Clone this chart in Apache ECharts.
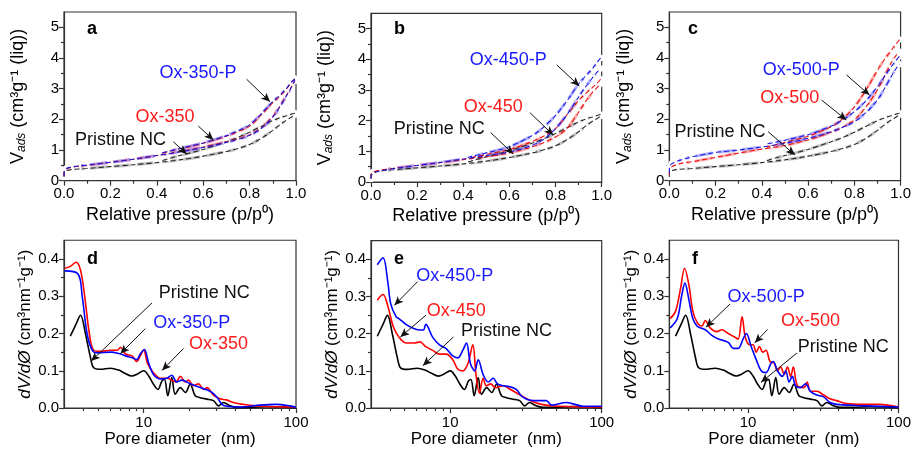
<!DOCTYPE html>
<html>
<head>
<meta charset="utf-8">
<script src="https://cdn.jsdelivr.net/npm/echarts@6/dist/echarts.min.js"></script>
<style>
  html, body { margin: 0; padding: 0; background: #fff; }
  #chart { width: 914px; height: 449px; }
</style>
</head>
<body>
<div id="chart"></div>
<script>
// ---------- N2 isotherms (volume adsorbed vs relative pressure) ----------
const pressureAds = [0.0001, 0.001, 0.01, 0.03, 0.06, 0.1, 0.2, 0.3, 0.4, 0.5, 0.6, 0.7, 0.75, 0.8, 0.85, 0.9, 0.93, 0.96, 0.98, 0.995];
const pressureDes = [0.995, 0.98, 0.96, 0.93, 0.9, 0.85, 0.8, 0.75, 0.7, 0.6, 0.5, 0.45, 0.42];

const pristineAds = [0.12, 0.28, 0.33, 0.36, 0.38, 0.4, 0.46, 0.52, 0.59, 0.68, 0.8, 0.95, 1.05, 1.18, 1.38, 1.64, 1.82, 1.98, 2.07, 2.15];
const pristineDes = [2.2, 2.17, 2.12, 2.05, 1.96, 1.77, 1.58, 1.41, 1.27, 1.02, 0.82, 0.72, 0.65];

const ox350Ads  = [0.15, 0.3, 0.38, 0.43, 0.47, 0.5, 0.6, 0.7, 0.82, 0.95, 1.1, 1.27, 1.37, 1.5, 1.72, 2.1, 2.42, 2.8, 3.05, 3.25];
const ox350Des  = [3.32, 3.2, 3.0, 2.75, 2.55, 2.15, 1.78, 1.6, 1.45, 1.22, 1.04, 0.95, 0.88];
const ox350pAds = [0.15, 0.32, 0.4, 0.44, 0.48, 0.51, 0.6, 0.7, 0.82, 0.94, 1.08, 1.25, 1.35, 1.48, 1.7, 2.07, 2.4, 2.78, 3.05, 3.28];
const ox350pDes = [3.32, 3.22, 3.02, 2.78, 2.58, 2.18, 1.82, 1.63, 1.47, 1.23, 1.05, 0.96, 0.9];

const ox450Ads  = [0.12, 0.25, 0.32, 0.37, 0.41, 0.45, 0.54, 0.63, 0.73, 0.83, 0.95, 1.15, 1.29, 1.47, 1.75, 2.28, 2.62, 2.92, 3.08, 3.2];
const ox450Des  = [3.35, 3.22, 3.08, 2.88, 2.66, 2.2, 1.74, 1.5, 1.32, 1.06, 0.9, 0.82, 0.77];
const ox450pAds = [0.1, 0.2, 0.28, 0.34, 0.39, 0.44, 0.54, 0.64, 0.75, 0.86, 0.98, 1.2, 1.4, 1.74, 2.2, 2.77, 3.1, 3.4, 3.58, 3.7];
const ox450pDes = [4.04, 3.9, 3.7, 3.45, 3.2, 2.65, 2.17, 1.8, 1.52, 1.15, 0.95, 0.86, 0.8];

const ox500Ads  = [0.2, 0.35, 0.45, 0.52, 0.58, 0.62, 0.76, 0.9, 1.03, 1.15, 1.33, 1.58, 1.75, 1.98, 2.4, 2.96, 3.4, 3.85, 4.08, 4.2];
const ox500Des  = [4.6, 4.45, 4.25, 3.95, 3.6, 2.95, 2.4, 2.02, 1.76, 1.45, 1.25, 1.15, 1.1];
const ox500pAds = [0.25, 0.45, 0.55, 0.62, 0.7, 0.78, 0.92, 1.0, 1.1, 1.22, 1.38, 1.6, 1.74, 1.92, 2.22, 2.63, 3.0, 3.4, 3.65, 3.8];
const ox500pDes = [4.05, 3.92, 3.72, 3.4, 3.06, 2.6, 2.25, 1.98, 1.78, 1.5, 1.32, 1.24, 1.2];

// ---------- pore size distributions (dV/dD vs pore diameter, nm) ----------
const pristinePsdD = [3.3, 3.6, 3.85, 4.16, 4.48, 4.7, 5.2, 6.05, 6.86, 7.4, 8.4, 9.05, 10, 10.8, 11.6, 12.4, 13.2, 13.7, 14.4, 15.3, 16.1, 17.4, 18.8, 20.2, 21.8, 23.5, 26, 28.7, 31, 33.4, 36.9, 40.8, 50, 64, 82, 100];
const pristinePsdV = [0.193, 0.225, 0.249, 0.197, 0.135, 0.108, 0.104, 0.107, 0.102, 0.095, 0.086, 0.091, 0.1, 0.086, 0.064, 0.05, 0.073, 0.077, 0.033, 0.082, 0.037, 0.055, 0.042, 0.064, 0.033, 0.028, 0.024, 0.02, 0.006, 0.015, 0.006, 0.002, 0.002, 0.004, 0.003, 0.001];

const ox350PsdD = [3.03, 3.3, 3.6, 3.85, 4.1, 4.4, 4.7, 5.2, 6.05, 6.7, 7.05, 7.6, 8.4, 9.0, 9.5, 10, 10.6, 11.6, 12.9, 14.2, 15.3, 16.3, 17.4, 18.8, 19.7, 21.2, 22.9, 24.7, 26, 28.7, 31.8, 35, 38.8, 45, 58, 100];
const ox350PsdV = [0.375, 0.38, 0.391, 0.37, 0.3, 0.2, 0.155, 0.152, 0.155, 0.155, 0.163, 0.145, 0.14, 0.125, 0.14, 0.155, 0.12, 0.095, 0.08, 0.08, 0.075, 0.07, 0.085, 0.07, 0.075, 0.06, 0.065, 0.05, 0.055, 0.035, 0.025, 0.022, 0.015, 0.01, 0.005, 0.003];
const ox350pPsdD = [3.03, 3.7, 3.95, 4.25, 4.6, 5.0, 6.05, 7.05, 7.6, 8.4, 9.0, 9.5, 10.1, 10.8, 11.6, 12.9, 14.2, 15.3, 16.5, 17.8, 20.2, 23.5, 27.3, 30.2, 32.6, 35, 43, 58, 74, 91, 100];
const ox350pPsdV = [0.368, 0.36, 0.3, 0.2, 0.155, 0.148, 0.15, 0.145, 0.14, 0.135, 0.13, 0.145, 0.157, 0.12, 0.09, 0.078, 0.08, 0.088, 0.07, 0.075, 0.065, 0.055, 0.045, 0.03, 0.01, 0.005, 0.003, 0.008, 0.01, 0.006, 0.002];

const ox450PsdD = [3.3, 3.6, 3.87, 4.2, 4.6, 5.1, 5.8, 6.3, 6.9, 7.67, 8.5, 9.4, 10.4, 11.2, 12.1, 13.1, 14.1, 14.8, 15.6, 16.5, 17.3, 18.5, 19.9, 22.3, 25, 29, 34, 40, 52, 100];
const ox450PsdV = [0.29, 0.305, 0.275, 0.22, 0.19, 0.175, 0.175, 0.178, 0.165, 0.155, 0.145, 0.145, 0.13, 0.105, 0.1, 0.12, 0.17, 0.09, 0.04, 0.08, 0.06, 0.065, 0.055, 0.06, 0.05, 0.035, 0.02, 0.01, 0.005, 0.003];
const ox450pPsdD = [3.3, 3.6, 3.87, 4.05, 4.4, 4.6, 5.1, 5.65, 6.25, 6.65, 6.9, 7.67, 8.5, 9.4, 10.4, 11.2, 12.1, 12.8, 13.6, 14.5, 15.3, 16.5, 17.8, 19.2, 20.5, 22.3, 24.5, 27.3, 30, 35.3, 43, 47, 58.5, 75.5, 100];
const ox450pPsdV = [0.385, 0.404, 0.34, 0.28, 0.245, 0.24, 0.225, 0.215, 0.21, 0.21, 0.225, 0.19, 0.17, 0.16, 0.14, 0.135, 0.155, 0.175, 0.12, 0.1, 0.13, 0.09, 0.07, 0.08, 0.065, 0.06, 0.058, 0.05, 0.03, 0.02, 0.02, 0.008, 0.015, 0.005, 0.005];

const ox500PsdD = [3.04, 3.3, 3.56, 3.79, 4.05, 4.3, 4.59, 4.95, 5.2, 5.61, 6.2, 6.69, 7.39, 8.18, 8.6, 9.13, 9.6, 10.25, 10.8, 11.34, 11.92, 12.54, 13.18, 14.0, 14.94, 15.7, 16.5, 17.4, 18.3, 19.2, 20.0, 21.3, 23.5, 24.7, 26, 28.7, 31.8, 35.1, 38.8, 45, 58, 74.5, 100];
const ox500PsdV = [0.24, 0.26, 0.32, 0.375, 0.33, 0.26, 0.23, 0.22, 0.235, 0.215, 0.205, 0.21, 0.2, 0.19, 0.185, 0.245, 0.19, 0.17, 0.17, 0.15, 0.165, 0.15, 0.155, 0.125, 0.12, 0.1, 0.11, 0.09, 0.11, 0.085, 0.11, 0.06, 0.055, 0.07, 0.045, 0.045, 0.035, 0.025, 0.02, 0.012, 0.01, 0.01, 0.003];
const ox500pPsdD = [3.04, 3.39, 3.62, 3.81, 4.05, 4.3, 4.59, 5.2, 5.75, 6.36, 7.04, 7.47, 7.98, 8.6, 9.27, 9.75, 10.5, 11.34, 12.23, 13.18, 14.2, 14.7, 15.7, 16.9, 17.8, 18.75, 19.7, 20.7, 22.3, 24.1, 26, 28.7, 31.8, 35.1, 38.8, 52.5, 100];
const ox500pPsdV = [0.215, 0.24, 0.3, 0.335, 0.29, 0.24, 0.22, 0.21, 0.195, 0.185, 0.18, 0.175, 0.16, 0.16, 0.185, 0.2, 0.165, 0.13, 0.1, 0.095, 0.12, 0.125, 0.1, 0.085, 0.1, 0.07, 0.085, 0.06, 0.055, 0.065, 0.045, 0.035, 0.03, 0.015, 0.01, 0.007, 0.003];

// ---------- tick values ----------
const isoXTicks = [0, 0.2, 0.4, 0.6, 0.8, 1.0];
const isoXMinor = [0.1, 0.3, 0.5, 0.7, 0.9];
const isoYTicks = [0, 1, 2, 3, 4, 5];
const isoYMinor = [0.5, 1.5, 2.5, 3.5, 4.5];
const psdXTicks = [10, 100];
const psdXMinor = [4, 5, 6, 7, 8, 9, 20, 30, 40, 50, 60, 70, 80, 90];
const psdYTicks = [0, 0.1, 0.2, 0.3, 0.4];
const psdYMinor = [0.05, 0.15, 0.25, 0.35];

// ---------- styling ----------
const FONT = '"Liberation Sans", Arial, Helvetica, sans-serif';
const AXIS_COLOR = '#333';
const COLORS = {
  k: { line: '#262626', psd: '#000000', pale: 'rgba(150,150,150,0.6)', text: '#111111' },
  r: { line: '#e81010', psd: '#ff0000', pale: 'rgba(255,120,120,0.6)', text: '#ff1a1a' },
  b: { line: '#1a1ae0', psd: '#0000ff', pale: 'rgba(120,120,255,0.6)', text: '#1a1aff' }
};

const panels = [
  { letter: 'a', kind: 'iso', grid: { left: 64, top: 12, width: 232, height: 168.7 }, letterAt: [87, 20],
    curves: [['Pristine NC', pristineAds, pristineDes, 'k'], ['Ox-350', ox350Ads, ox350Des, 'r'], ['Ox-350-P', ox350pAds, ox350pDes, 'b']],
    notes: [
      { text: 'Ox-350-P', c: 'b', at: [0.578, 3.5], tail: [0.787, 3.31], head: [0.888, 2.57] },
      { text: 'Ox-350', c: 'r', at: [0.435, 2.07], tail: [0.579, 1.78], head: [0.644, 1.33] },
      { text: 'Pristine NC', c: 'k', at: [0.244, 1.33], tail: [0.471, 1.27], head: [0.529, 0.87] }
    ] },
  { letter: 'b', kind: 'iso', grid: { left: 371, top: 13.3, width: 230.7, height: 168.7 }, letterAt: [394, 20],
    curves: [['Pristine NC', pristineAds, pristineDes, 'k'], ['Ox-450', ox450Ads, ox450Des, 'r'], ['Ox-450-P', ox450pAds, ox450pDes, 'b']],
    notes: [
      { text: 'Ox-450-P', c: 'b', at: [0.595, 3.98], tail: [0.805, 3.82], head: [0.903, 3.13] },
      { text: 'Ox-450', c: 'r', at: [0.53, 2.46], tail: [0.689, 2.26], head: [0.79, 1.53] },
      { text: 'Pristine NC', c: 'k', at: [0.296, 1.72], tail: [0.519, 1.61], head: [0.617, 0.91] }
    ] },
  { letter: 'c', kind: 'iso', grid: { left: 669.3, top: 12, width: 231.7, height: 168.7 }, letterAt: [688, 20],
    curves: [['Pristine NC', pristineAds, pristineDes, 'k'], ['Ox-500', ox500Ads, ox500Des, 'r'], ['Ox-500-P', ox500pAds, ox500pDes, 'b']],
    notes: [
      { text: 'Ox-500-P', c: 'b', at: [0.571, 3.61], tail: [0.766, 3.45], head: [0.866, 2.79] },
      { text: 'Ox-500', c: 'r', at: [0.521, 2.69], tail: [0.658, 2.63], head: [0.766, 1.98] },
      { text: 'Pristine NC', c: 'k', at: [0.219, 1.6], tail: [0.427, 1.6], head: [0.543, 0.84] }
    ] },
  { letter: 'd', kind: 'psd', grid: { left: 64, top: 240.25, width: 232, height: 168.75 }, letterAt: [87, 250],
    curves: [['Pristine NC', pristinePsdD, pristinePsdV, 'k'], ['Ox-350', ox350PsdD, ox350PsdV, 'r'], ['Ox-350-P', ox350pPsdD, ox350pPsdV, 'b']],
    notes: [
      { text: 'Pristine NC', c: 'k', at: [24.97, 0.309], tail: [11.35, 0.282], head: [4.52, 0.126] },
      { text: 'Ox-350-P', c: 'b', at: [20.7, 0.229], tail: [10.26, 0.213], head: [7.03, 0.146] },
      { text: 'Ox-350', c: 'r', at: [31, 0.172], tail: [18.3, 0.16], head: [13.2, 0.101] }
    ] },
  { letter: 'e', kind: 'psd', grid: { left: 371, top: 240.6, width: 230.7, height: 168.75 }, letterAt: [394, 250],
    curves: [['Pristine NC', pristinePsdD, pristinePsdV, 'k'], ['Ox-450', ox450PsdD, ox450PsdV, 'r'], ['Ox-450-P', ox450pPsdD, ox450pPsdV, 'b']],
    notes: [
      { text: 'Ox-450-P', c: 'b', at: [10.7, 0.354], tail: [6.1, 0.34], head: [4.28, 0.276] },
      { text: 'Ox-450', c: 'r', at: [10.96, 0.262], tail: [6.93, 0.25], head: [4.69, 0.191] },
      { text: 'Pristine NC', c: 'k', at: [23.5, 0.207], tail: [10.5, 0.191], head: [6.6, 0.114] }
    ] },
  { letter: 'f', kind: 'psd', grid: { left: 669.3, top: 240.25, width: 231.7, height: 168.75 }, letterAt: [692, 250],
    curves: [['Pristine NC', pristinePsdD, pristinePsdV, 'k'], ['Ox-500', ox500PsdD, ox500PsdV, 'r'], ['Ox-500-P', ox500pPsdD, ox500pPsdV, 'b']],
    notes: [
      { text: 'Ox-500-P', c: 'b', at: [13.2, 0.297], tail: [7.59, 0.279], head: [5.26, 0.217] },
      { text: 'Ox-500', c: 'r', at: [26, 0.233], tail: [13.5, 0.211], head: [11.1, 0.175] },
      { text: 'Pristine NC', c: 'k', at: [43, 0.163], tail: [21.2, 0.148], head: [12.2, 0.069] }
    ] }
];

const axisLine = { show: true, onZero: false, lineStyle: { color: AXIS_COLOR, width: 1.2 } };
const tickLine = { color: AXIS_COLOR, width: 1.2 };
const labelStyle = { color: '#000', fontSize: 15, fontFamily: FONT };

// an extra, label-less axis on the same grid that only draws the short minor ticks
function minorAxis(gridIndex, type, min, max, values) {
  return {
    gridIndex, type, min, max, position: type === 'log' || min === 0 && max === 1 ? 'bottom' : 'left',
    axisLine: { show: false }, splitLine: { show: false }, axisLabel: { show: false },
    axisTick: { show: true, length: 3, lineStyle: tickLine, customValues: values }
  };
}

const grids = [], xAxes = [], yAxes = [], series = [], titles = [];

panels.forEach((p, i) => {
  grids.push(Object.assign({ show: true, borderColor: AXIS_COLOR, borderWidth: 1.2, containLabel: false }, p.grid));
  titles.push({ text: p.letter, left: p.letterAt[0], top: p.letterAt[1], padding: 0,
    textStyle: { fontSize: 18, fontWeight: 'bold', color: '#000', fontFamily: FONT } });

  const iso = p.kind === 'iso';
  const xMain = xAxes.length;
  if (iso) {
    xAxes.push({
      gridIndex: i, type: 'value', min: 0, max: 1, position: 'bottom',
      axisLine, splitLine: { show: false }, minorTick: { show: false },
      axisTick: { show: true, length: 5, lineStyle: tickLine, customValues: isoXTicks },
      axisLabel: Object.assign({ margin: 6, customValues: isoXTicks, formatter: v => v.toFixed(1) }, labelStyle),
      name: 'Relative pressure (p/p\u2070)', nameLocation: 'middle', nameGap: 25,
      nameTextStyle: { fontSize: 18, color: '#000', fontFamily: FONT }
    });
    xAxes.push(Object.assign(minorAxis(i, 'value', 0, 1, isoXMinor), { position: 'bottom' }));
  } else {
    xAxes.push({
      gridIndex: i, type: 'log', logBase: 10, min: 3, max: 100, position: 'bottom',
      axisLine, splitLine: { show: false }, minorTick: { show: false },
      axisTick: { show: true, length: 5, lineStyle: tickLine, customValues: psdXTicks },
      axisLabel: Object.assign({ margin: 7, customValues: psdXTicks }, labelStyle),
      name: 'Pore diameter  (nm)', nameLocation: 'middle', nameGap: 20,
      nameTextStyle: { fontSize: 17, color: '#000', fontFamily: FONT }
    });
    xAxes.push(Object.assign(minorAxis(i, 'log', 3, 100, psdXMinor), { position: 'bottom', logBase: 10 }));
  }

  const yMain = yAxes.length;
  const yMax = iso ? 5.5 : 0.45;
  yAxes.push({
    gridIndex: i, type: 'value', min: 0, max: yMax, position: 'left',
    axisLine, splitLine: { show: false },
    axisTick: { show: true, length: 5, lineStyle: tickLine, customValues: iso ? isoYTicks : psdYTicks },
    axisLabel: Object.assign({ margin: 5, customValues: iso ? isoYTicks : psdYTicks,
      formatter: v => iso ? String(v) : v.toFixed(1) }, labelStyle),
    name: iso ? '{up|V}{sub|ads}{up| (cm\u00b3g\u207b\u00b9 (liq))}' : '{it|dV/d\u00d8}{up| (cm\u00b3nm\u207b\u00b9g\u207b\u00b9)}',
    nameLocation: 'middle', nameGap: iso ? 36 : 27, nameRotate: 90,
    nameTextStyle: {
      fontSize: iso ? 18 : 17, color: '#000', fontFamily: FONT,
      rich: {
        up: { fontSize: iso ? 18 : 17, fontFamily: FONT, color: '#000' },
        it: { fontSize: 17, fontStyle: 'italic', fontFamily: FONT, color: '#000' },
        sub: { fontSize: 12, fontStyle: 'italic', fontFamily: FONT, color: '#000', verticalAlign: 'bottom', padding: [7, 0, 0, 0] }
      }
    }
  });
  yAxes.push(Object.assign(minorAxis(i, 'value', 0, yMax, iso ? isoYMinor : psdYMinor), { position: 'left' }));

  // curves
  p.curves.forEach(([name, a, b, c]) => {
    const col = COLORS[c];
    if (iso) {
      [[pressureAds, a], [pressureDes, b]].forEach(([px, vals]) => {
        const data = px.map((x, k) => [x, vals[k]]);
        series.push({
          type: 'line', name, xAxisIndex: xMain, yAxisIndex: yMain, data, smooth: 0.3,
          symbol: 'emptyCircle', symbolSize: 4.5, showSymbol: true, silent: true, z: 2,
          lineStyle: { color: col.pale, width: 3 },
          itemStyle: { color: '#fff', borderColor: col.pale, borderWidth: 1 }
        });
        series.push({
          type: 'line', name, xAxisIndex: xMain, yAxisIndex: yMain, data, smooth: 0.3,
          symbol: 'none', silent: true, z: 3,
          lineStyle: { color: col.line, width: 1.1, type: [5, 3] }
        });
      });
    } else {
      series.push({
        type: 'line', name, xAxisIndex: xMain, yAxisIndex: yMain,
        data: a.map((x, k) => [x, b[k]]), smooth: 0.35, symbol: 'none', silent: true, z: 3,
        lineStyle: { color: col.psd, width: 1.6 }
      });
    }
  });

  // annotation arrows and labels
  const last = series[series.length - 1];
  last.markLine = {
    silent: true, animation: false, symbol: ['none', 'arrow'], symbolSize: [6, 9],
    lineStyle: { color: '#111', width: 1, type: 'solid' }, label: { show: false },
    emphasis: { disabled: true },
    data: p.notes.map(n => [{ coord: n.tail }, { coord: n.head }])
  };
  last.markPoint = {
    silent: true, animation: false, symbol: 'circle', symbolSize: 1,
    itemStyle: { color: 'rgba(0,0,0,0)' },
    data: p.notes.map(n => ({
      coord: n.at,
      label: { show: true, position: 'inside', formatter: n.text, color: COLORS[n.c].text, fontSize: 18, fontFamily: FONT }
    }))
  };
});

const chart = echarts.init(document.getElementById('chart'), null, { renderer: 'canvas' });
chart.setOption({
  animation: false,
  backgroundColor: '#fff',
  title: titles,
  grid: grids,
  xAxis: xAxes,
  yAxis: yAxes,
  series
});
</script>
</body>
</html>
